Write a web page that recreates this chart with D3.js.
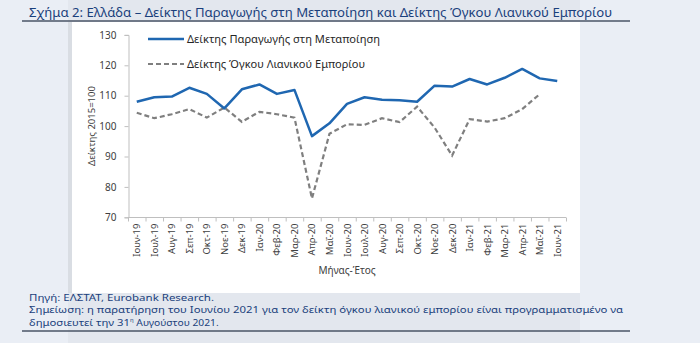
<!DOCTYPE html>
<html>
<head>
<meta charset="utf-8">
<script src="https://cdn.jsdelivr.net/npm/d3@7"></script>
<style>
  html, body { margin: 0; padding: 0; background: #eaeef5; }
  svg { display: block; }
  text { font-family: "Noto Sans", "Open Sans", sans-serif; }
</style>
</head>
<body>
<svg id="chart" width="700" height="343"></svg>
<script>
// Monthly index data, June 2019 – June 2021 (2015 = 100)
const months = ["Ιουν-19","Ιουλ-19","Αυγ-19","Σεπ-19","Οκτ-19","Νοε-19","Δεκ-19","Ιαν-20","Φεβ-20","Μαρ-20","Απρ-20","Μαΐ-20","Ιουν-20","Ιουλ-20","Αυγ-20","Σεπ-20","Οκτ-20","Νοε-20","Δεκ-20","Ιαν-21","Φεβ-21","Μαρ-21","Απρ-21","Μαΐ-21","Ιουν-21"];
const manufacturing = [108.0,109.5,109.7,112.6,110.6,105.8,112.1,113.7,110.6,111.9,96.7,100.9,107.3,109.5,108.7,108.5,108.0,113.3,113.0,115.5,113.7,115.9,118.8,115.7,114.8];
const retail = [104.4,102.6,103.9,105.6,102.8,106.1,101.4,104.7,103.9,102.8,76.2,97.5,100.6,100.4,102.6,101.3,106.4,99.5,90.3,102.3,101.5,102.6,105.6,110.5,null];
const yTicks = [70,80,90,100,110,120,130];
const seriesNames = ["Δείκτης Παραγωγής στη Μεταποίηση","Δείκτης Όγκου Λιανικού Εμπορίου"];

const svg = d3.select("#chart");

// page panels
svg.append("rect").attr("x",68).attr("y",0).attr("width",512).attr("height",343).attr("fill","#e3e7ee");
svg.append("rect").attr("x",68).attr("y",22).attr("width",512).attr("height",271).attr("fill","#d9dde3");
svg.append("rect").attr("x",72).attr("y",22).attr("width",508).attr("height",271).attr("fill","#ffffff");

// title
svg.append("text").attr("x",29).attr("y",17)
  .attr("font-size",13).attr("fill","#1a3f7c")
  .attr("textLength",583).attr("lengthAdjust","spacingAndGlyphs")
  .text("Σχήμα 2: Ελλάδα – Δείκτης Παραγωγής στη Μεταποίηση και Δείκτης Όγκου Λιανικού Εμπορίου");
svg.append("line").attr("x1",22).attr("x2",630).attr("y1",21).attr("y2",21)
  .attr("stroke","#4a5466").attr("stroke-width",1.5);

// scales
const x = d3.scaleBand().domain(months).range([128,566]).padding(0);
const y = d3.scaleLinear().domain([70,130]).range([217.3,34.9]);
const cx = d => x(d) + x.bandwidth()/2;

const axisColor = "#bfbfbf";

// y axis
const yAxis = svg.append("g").attr("transform","translate(128.5,0)")
  .call(d3.axisLeft(y).tickValues(yTicks).tickSize(4).tickPadding(8));
yAxis.select(".domain").attr("stroke",axisColor);
yAxis.selectAll(".tick line").attr("stroke",axisColor);
yAxis.selectAll(".tick text").attr("font-size",10).attr("fill","#404040")
  .attr("font-family","'Noto Sans', sans-serif");

// x axis: ticks on band boundaries
const xAxisG = svg.append("g").attr("transform","translate(0,217.5)");
xAxisG.append("line").attr("x1",128).attr("x2",566).attr("stroke",axisColor);
const bounds = months.map(m => x(m)).concat([x(months[months.length-1]) + x.bandwidth()]);
xAxisG.selectAll("line.tk").data(bounds).join("line").attr("class","tk")
  .attr("x1",d=>d+0.5).attr("x2",d=>d+0.5).attr("y1",0).attr("y2",4).attr("stroke",axisColor);
xAxisG.selectAll("text").data(months).join("text")
  .attr("transform",d=>`translate(${cx(d)+3.5},6) rotate(-90)`)
  .attr("text-anchor","end").attr("font-size",9.5).attr("fill","#404040")
  .text(d=>d);

// axis titles
svg.append("text").attr("x",347).attr("y",274).attr("text-anchor","middle")
  .attr("font-size",10).attr("fill","#404040").text("Μήνας-Έτος");
svg.append("text").attr("transform","translate(95,126) rotate(-90)").attr("text-anchor","middle")
  .attr("font-size",9.5).attr("fill","#404040").text("Δείκτης 2015=100");

// lines
const line = d3.line().defined(d=>d.v!=null).x(d=>cx(d.m)).y(d=>y(d.v));
svg.append("path").datum(months.map((m,i)=>({m, v: retail[i]})))
  .attr("d",line).attr("fill","none").attr("stroke","#7f7f7f")
  .attr("stroke-width",2.2).attr("stroke-dasharray","5,3");
svg.append("path").datum(months.map((m,i)=>({m, v: manufacturing[i]})))
  .attr("d",line).attr("fill","none").attr("stroke","#1f67b1")
  .attr("stroke-width",2.5).attr("stroke-linejoin","round");

// legend
const leg = svg.append("g");
leg.append("line").attr("x1",148).attr("x2",184).attr("y1",39).attr("y2",39)
  .attr("stroke","#1f67b1").attr("stroke-width",2.5);
leg.append("text").attr("x",187).attr("y",43).attr("font-size",11).attr("fill","#262626")
  .attr("textLength",193).attr("lengthAdjust","spacingAndGlyphs").text(seriesNames[0]);
leg.append("line").attr("x1",148).attr("x2",184).attr("y1",64).attr("y2",64)
  .attr("stroke","#7f7f7f").attr("stroke-width",2.2).attr("stroke-dasharray","5,3");
leg.append("text").attr("x",187).attr("y",68).attr("font-size",11).attr("fill","#262626")
  .attr("textLength",178).attr("lengthAdjust","spacingAndGlyphs").text(seriesNames[1]);

// footer notes
const footColor = "#1a3f7c";
svg.append("text").attr("x",29).attr("y",300.5).attr("font-size",9.3).attr("fill",footColor)
  .attr("textLength",185).attr("lengthAdjust","spacingAndGlyphs")
  .text("Πηγή: ΕΛΣΤΑΤ, Eurobank Research.");
svg.append("text").attr("x",29).attr("y",313).attr("font-size",9.3).attr("fill",footColor)
  .attr("textLength",594).attr("lengthAdjust","spacingAndGlyphs")
  .text("Σημείωση: η παρατήρηση του Ιουνίου 2021 για τον δείκτη όγκου λιανικού εμπορίου είναι προγραμματισμένο να");
const l3 = svg.append("text").attr("x",29).attr("y",325.5).attr("font-size",9.3).attr("fill",footColor);
l3.append("tspan").attr("textLength",101).attr("lengthAdjust","spacingAndGlyphs").text("δημοσιευτεί την 31");
l3.append("tspan").attr("font-size",6).attr("dy",-4).text("η");
l3.append("tspan").attr("dy",4).attr("textLength",85).attr("lengthAdjust","spacingAndGlyphs").text(" Αυγούστου 2021.");
svg.append("line").attr("x1",22).attr("x2",630).attr("y1",331).attr("y2",331)
  .attr("stroke","#4a5466").attr("stroke-width",1.5);
</script>
</body>
</html>
